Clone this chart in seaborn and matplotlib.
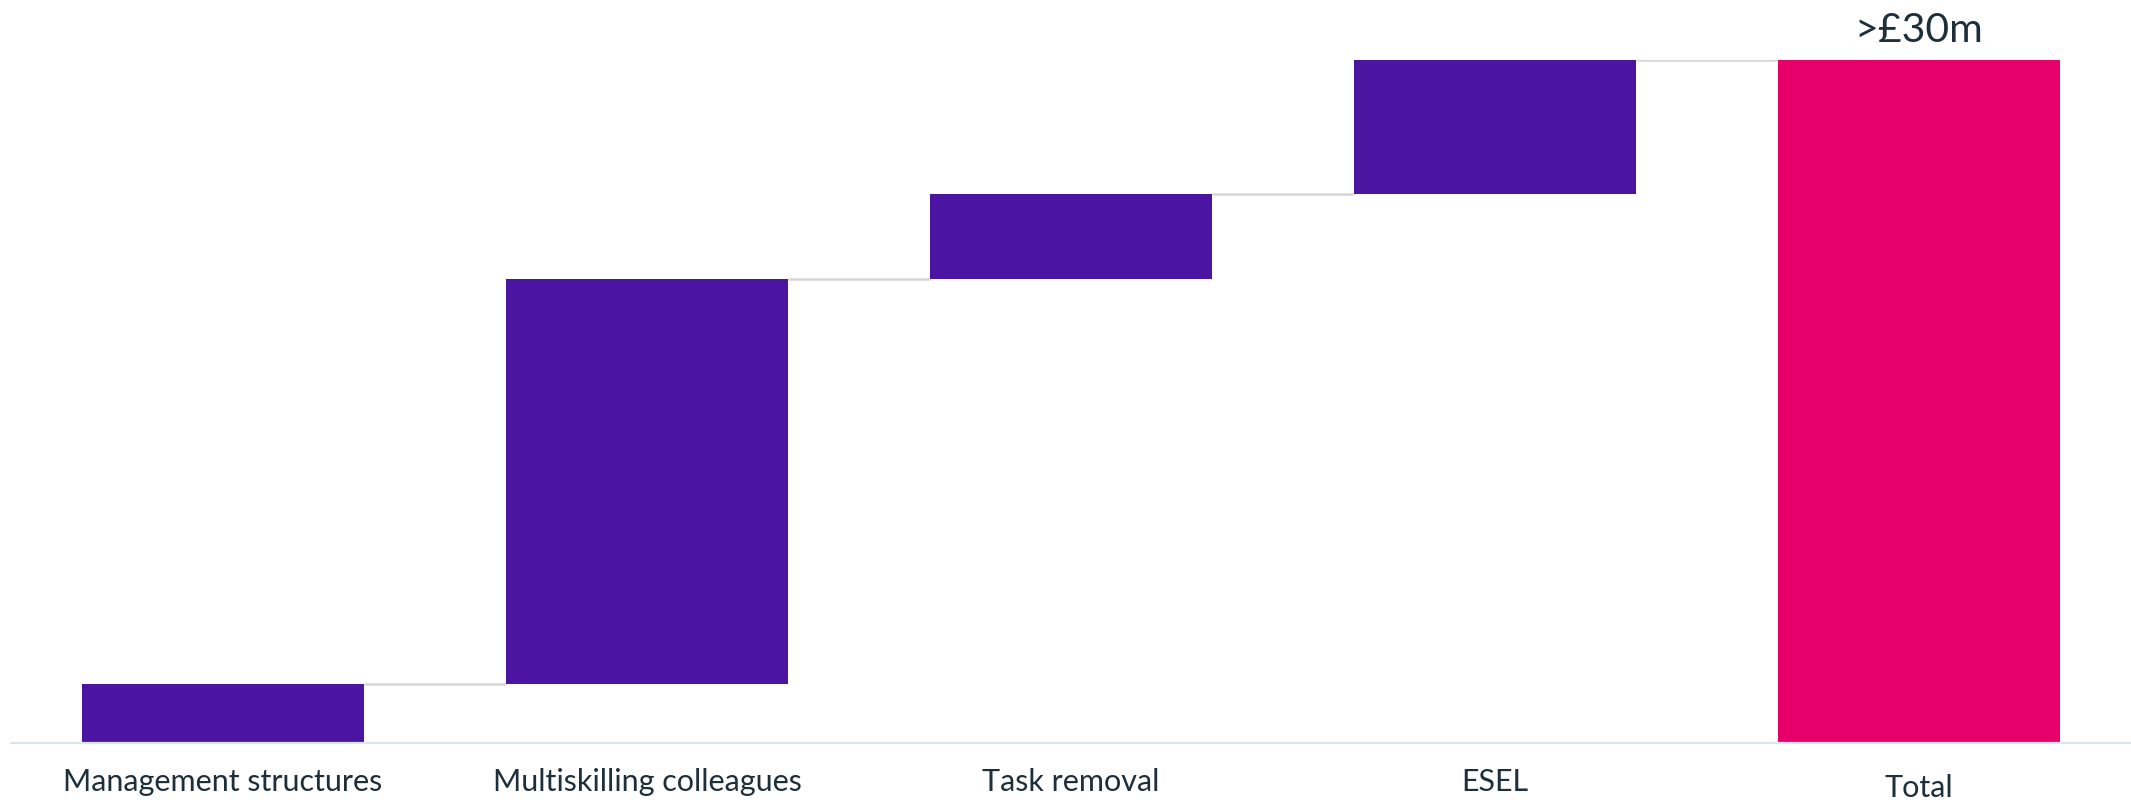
import numpy as np
import pandas as pd
import matplotlib
matplotlib.use("Agg")
import matplotlib.pyplot as plt
import matplotlib.transforms as mtransforms
import seaborn as sns

# Savings waterfall (GBP millions)
categories = ["Management structures", "Multiskilling colleagues", "Task removal", "ESEL", "Total"]
increments = [2.6, 17.8, 3.7, 5.9]
total_value = 30.0
total_label = ">£30m"

PURPLE = "#4b14a1"
PINK = "#e5006a"
TEXT = "#1e2f3c"
CONNECTOR = "#d6d6d6"
AXIS = "#dde5ec"

# Floating bar geometry for the waterfall
cum = np.cumsum(increments)
bottoms = list(np.concatenate([[0.0], cum[:-1]])) + [0.0]
heights = list(increments) + [total_value]
tops = list(cum) + [total_value]

df = pd.DataFrame({"category": categories, "height": heights, "bottom": bottoms})

sns.set_theme(style="white")
plt.rcParams["font.family"] = ["Lato", "DejaVu Sans"]

fig = plt.figure(figsize=(21.31, 8.02), dpi=100)
ax = fig.add_axes([0.0052, 0.0731, 0.9948, 0.8523])

bar_width = 0.665
sns.barplot(data=df, x="category", y="height", order=categories,
            bottom=df["bottom"].values, color=PURPLE, width=bar_width,
            linewidth=0, saturation=1, ax=ax, zorder=3)
for patch in ax.patches[:-1]:
    patch.set_facecolor(PURPLE)
ax.patches[-1].set_facecolor(PINK)

# Connector lines between consecutive bars
half = bar_width / 2
for i in range(len(categories) - 1):
    ax.hlines(tops[i], i + half, i + 1 - half, color=CONNECTOR, lw=1.8, zorder=2)

ax.set_xlim(-0.5, len(categories) - 0.5)
ax.set_ylim(0, total_value)

ax.annotate(total_label, xy=(len(categories) - 1, total_value), xytext=(0, 12.5),
            textcoords="offset points", ha="center", va="baseline",
            fontsize=29.5, color=TEXT, annotation_clip=False)

for side in ["left", "top", "right"]:
    ax.spines[side].set_visible(False)
ax.spines["bottom"].set_color(AXIS)
ax.spines["bottom"].set_linewidth(1.6)
ax.spines["bottom"].set_zorder(4)

ax.set_yticks([])
ax.set_xlabel("")
ax.set_ylabel("")
ax.tick_params(axis="x", length=0, pad=18, labelsize=22, labelcolor=TEXT)

# The total's label sits a touch lower than the others
last = ax.get_xticklabels()[-1]
last.set_transform(last.get_transform() +
                   mtransforms.ScaledTranslation(0, -4 / 72, fig.dpi_scale_trans))

fig.savefig("out.png", dpi=100, facecolor="white")
